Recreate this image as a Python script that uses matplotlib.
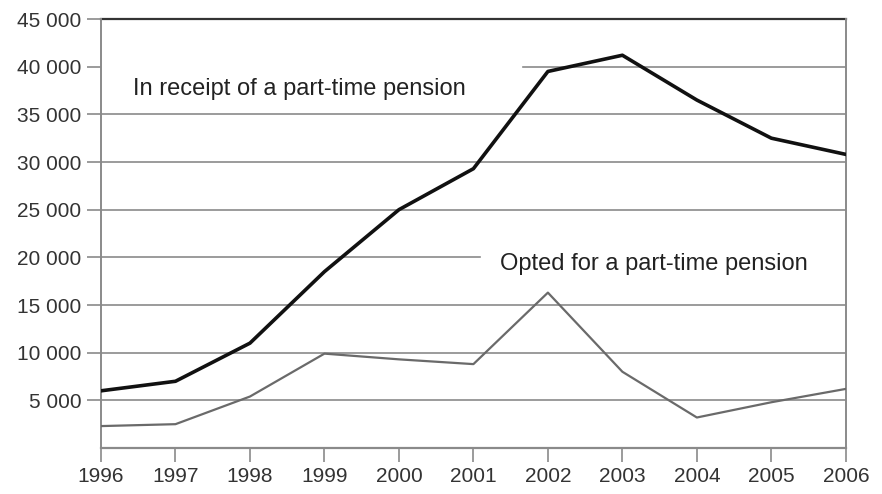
import matplotlib
matplotlib.use("Agg")
import matplotlib.pyplot as plt

years = [1996, 1997, 1998, 1999, 2000, 2001, 2002, 2003, 2004, 2005, 2006]
in_receipt = [6000, 7000, 11000, 18500, 25000, 29300, 39500, 41200, 36500, 32500, 30800]
opted = [2300, 2500, 5400, 9900, 9300, 8800, 16300, 8000, 3200, 4800, 6200]
y_ticks = [5000, 10000, 15000, 20000, 25000, 30000, 35000, 40000, 45000]
y_tick_labels = ["5 000", "10 000", "15 000", "20 000", "25 000",
                 "30 000", "35 000", "40 000", "45 000"]
label_receipt = "In receipt of a part-time pension"
label_opted = "Opted for a part-time pension"

plt.rcParams["font.family"] = ["Liberation Sans", "DejaVu Sans"]

fig = plt.figure(figsize=(8.82, 4.94), dpi=100)
ax = fig.add_axes([0.1145, 0.0931, 0.8445, 0.8684])

ax.set_xlim(1996, 2006)
ax.set_ylim(0, 45000)

# horizontal grid; two lines are broken where the labels sit
grid_spans = {40000: (0.566, 1.0), 20000: (0.0, 0.509)}
for v in y_ticks[:-1]:
    lo, hi = grid_spans.get(v, (0.0, 1.0))
    ax.axhline(v, xmin=lo, xmax=hi, color="#8a8a8a", lw=1.2, zorder=1)
ax.axhline(45000, color="#333333", lw=1.6, zorder=1, clip_on=False)
ax.axhline(0, color="#8a8a8a", lw=1.6, zorder=1, clip_on=False)

ax.plot(years, opted, color="#6a6a6a", lw=1.6, zorder=4)
ax.plot(years, in_receipt, color="#111111", lw=2.6, zorder=5)

ax.text(1996.43, 37660, label_receipt, fontsize=17, color="#222222",
        va="center", ha="left", zorder=3)
ax.text(2001.36, 19300, label_opted, fontsize=17, color="#222222",
        va="center", ha="left", zorder=3)

for side in ["top", "bottom"]:
    ax.spines[side].set_visible(False)
for side in ["left", "right"]:
    ax.spines[side].set_color("#8a8a8a")
    ax.spines[side].set_linewidth(1.4)

ax.set_yticks(y_ticks)
ax.set_yticklabels(y_tick_labels, fontsize=15, color="#333333")
ax.set_xticks(years)
ax.set_xticklabels([str(y) for y in years], fontsize=15, color="#333333")
ax.tick_params(axis="both", length=10, width=1.2, color="#8a8a8a")
ax.tick_params(axis="x", pad=4)
ax.tick_params(axis="y", pad=4)

fig.savefig("out.png", dpi=100, facecolor="white")
